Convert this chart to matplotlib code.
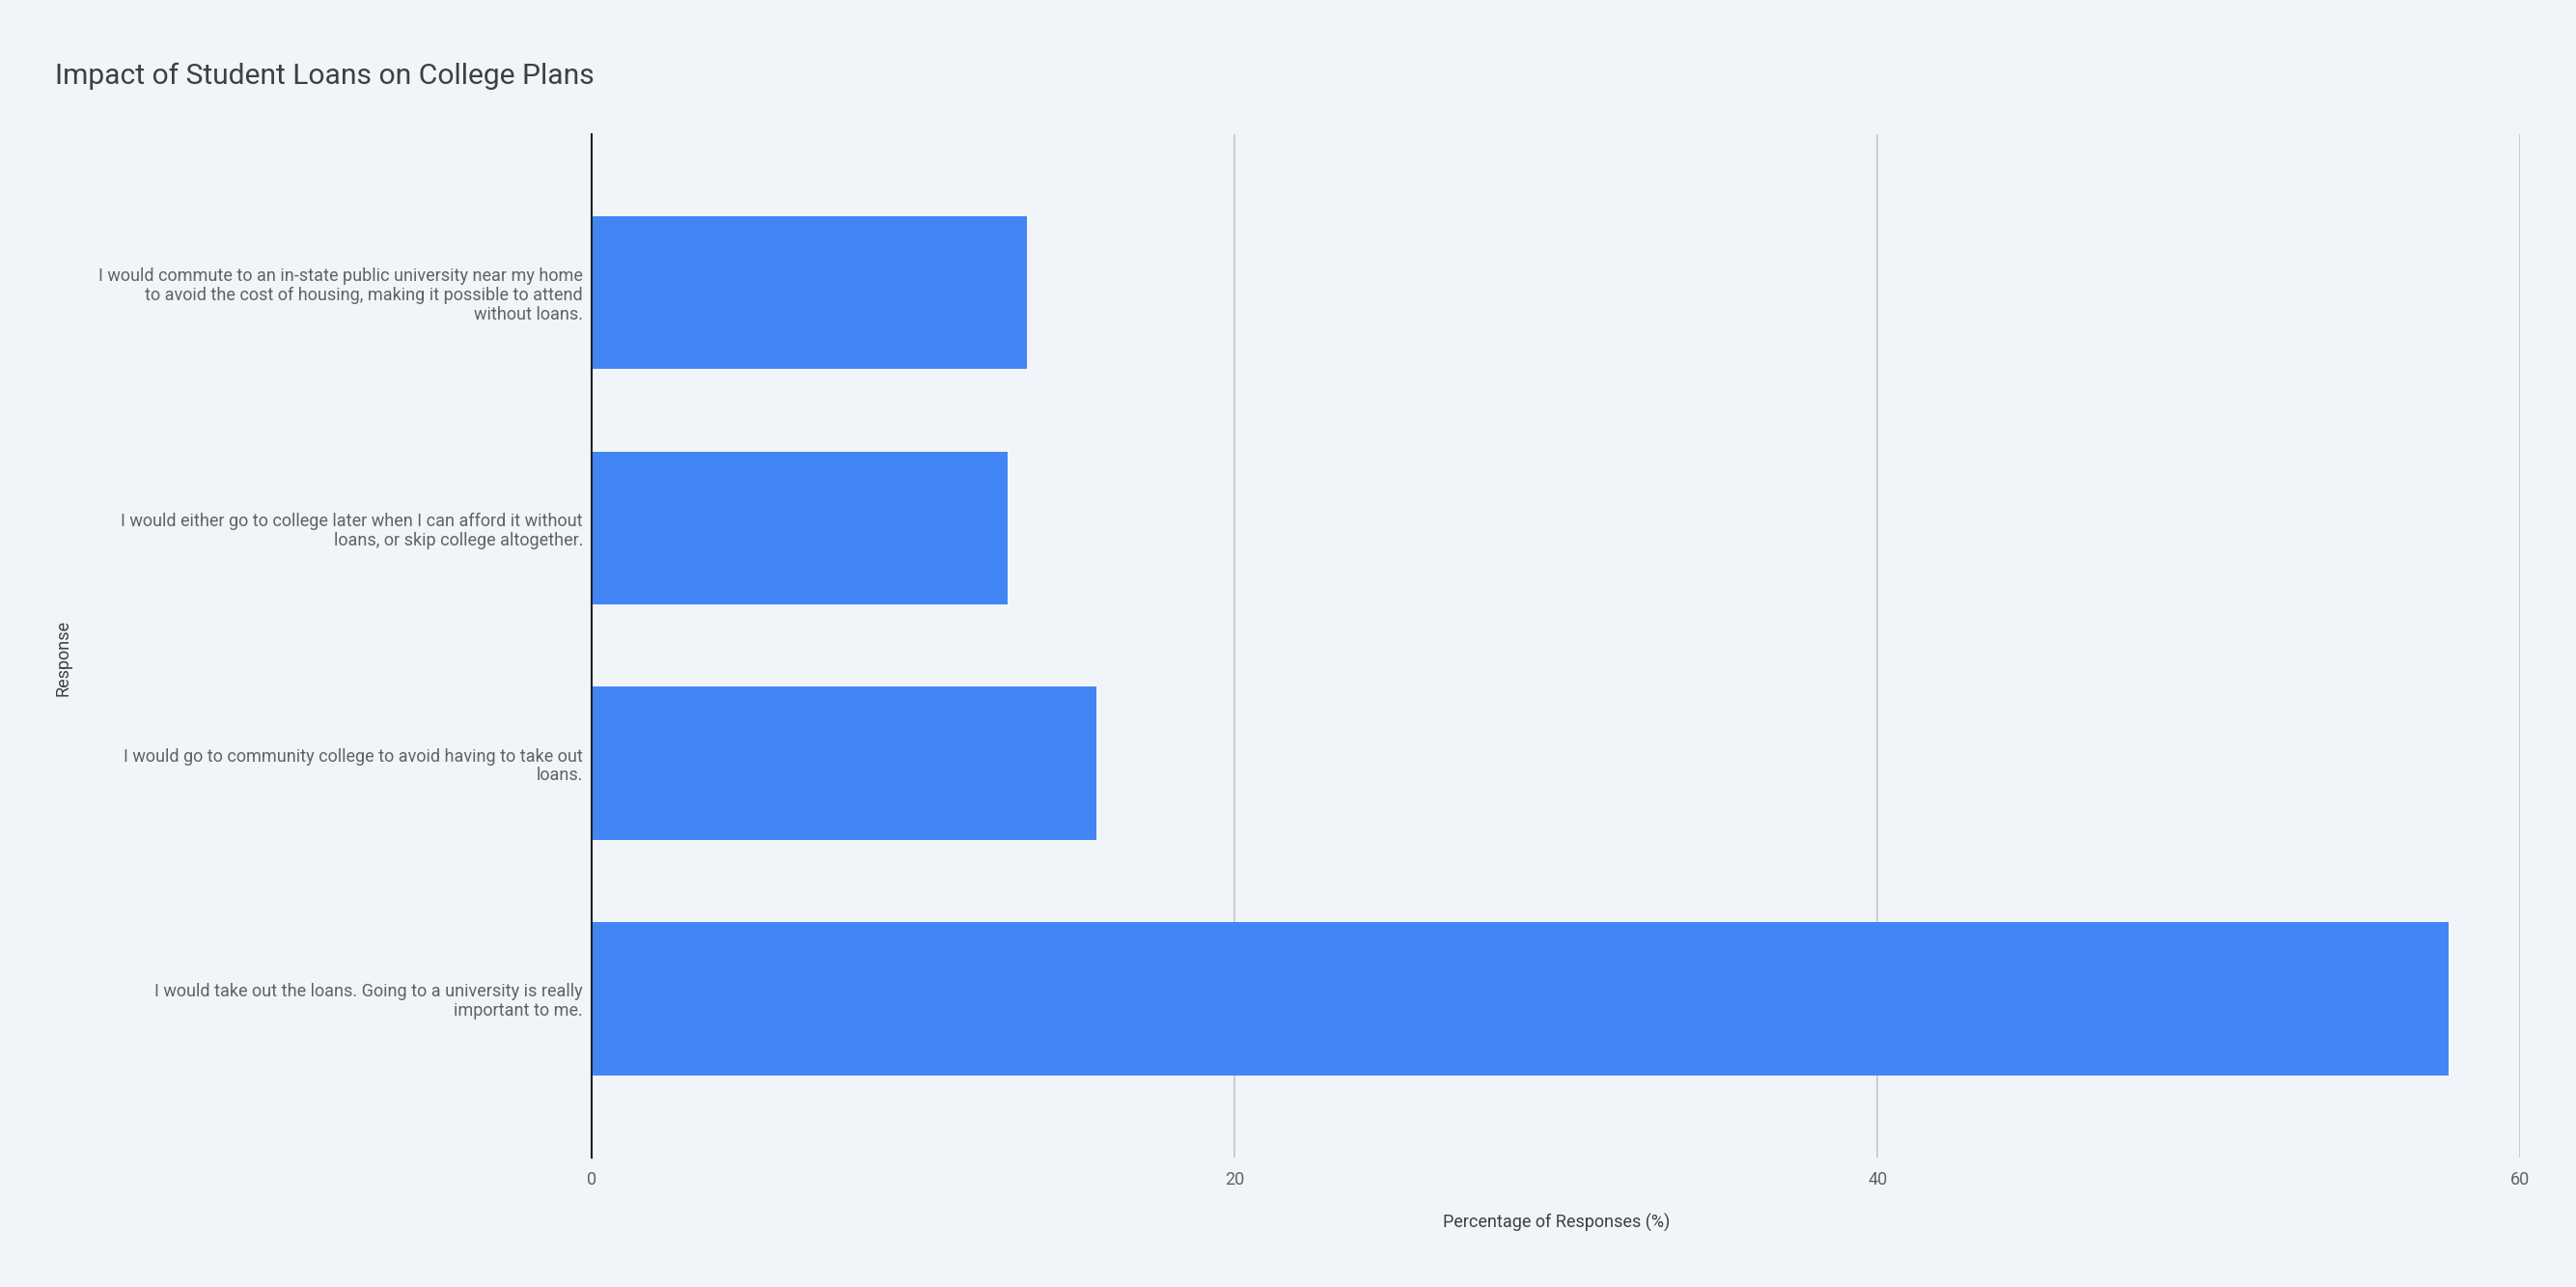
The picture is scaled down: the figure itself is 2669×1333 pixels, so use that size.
import matplotlib
matplotlib.use("Agg")
import matplotlib.pyplot as plt

# survey answers, top to bottom
responses = [
    "I would commute to an in-state public university near my home\n"
    "to avoid the cost of housing, making it possible to attend\n"
    "without loans.",
    "I would either go to college later when I can afford it without\n"
    "loans, or skip college altogether.",
    "I would go to community college to avoid having to take out\n"
    "loans.",
    "I would take out the loans. Going to a university is really\n"
    "important to me.",
]
percentages = [13.55, 12.93, 15.7, 57.77]
x_ticks = [0, 20, 40, 60]

plt.rcParams['font.family'] = ['Roboto', 'DejaVu Sans']

bg = '#f1f4f9'
fig = plt.figure(figsize=(26.69, 13.33), dpi=100, facecolor=bg)
ax = fig.add_axes([0.2297, 0.1005, 0.7487, 0.7955], facecolor=bg)

pos = list(range(len(responses)))
ax.barh(pos, percentages, height=0.65, color='#4285f4', zorder=3)

ax.set_ylim(3.675, -0.675)
ax.set_xlim(0, 60)
ax.set_xticks(x_ticks)
ax.set_xticklabels([str(t) for t in x_ticks])
ax.set_yticks(pos)
ax.set_yticklabels(responses, linespacing=1.12)

ax.grid(axis='x', color='#c8cacd', linewidth=1.3, zorder=0)
ax.grid(axis='y', visible=False)
for s in ['top', 'right', 'bottom']:
    ax.spines[s].set_visible(False)
ax.spines['left'].set_color('#202124')
ax.spines['left'].set_linewidth(1.5)
ax.spines['left'].set_zorder(4)

ax.tick_params(axis='both', length=0, labelsize=13, labelcolor='#5f6368')
ax.tick_params(axis='y', pad=6.5)
ax.tick_params(axis='x', pad=10)

ax.set_xlabel("Percentage of Responses (%)", fontsize=13, color='#3c4043',
              labelpad=18.5)
fig.text(0.0245, 0.489, "Response", rotation=90, fontsize=13,
         color='#3c4043', ha='center', va='center')

fig.text(0.0214, 0.935, "Impact of Student Loans on College Plans",
         fontsize=21.6, color='#3c4043', ha='left', va='baseline')

fig.savefig("out.png", dpi=100, facecolor=bg)
